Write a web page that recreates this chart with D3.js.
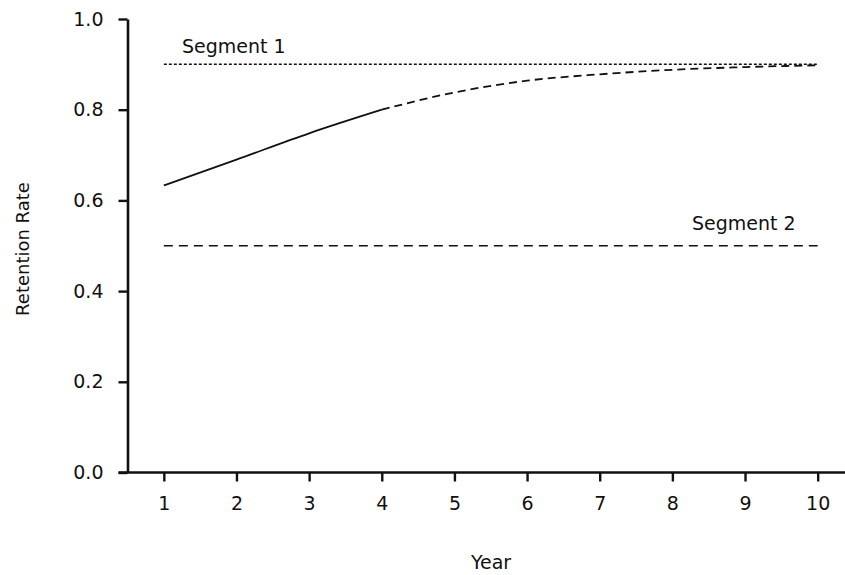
<!DOCTYPE html>
<html>
<head>
<meta charset="utf-8">
<script src="https://cdn.jsdelivr.net/npm/d3@7"></script>
<style>
  html, body { margin: 0; padding: 0; background: #fff; }
  svg { display: block; font-family: "DejaVu Sans", sans-serif; }
</style>
</head>
<body>
<svg id="chart" width="845" height="575"></svg>
<script>
// Retention rate by year: a converging curve and two constant segments
const years = [1, 2, 3, 4, 5, 6, 7, 8, 9, 10];
const curveRates = [0.633, 0.690, 0.748, 0.800, 0.838, 0.864, 0.878, 0.888, 0.894, 0.898];
const segment1Rate = 0.9;
const segment2Rate = 0.5;
const yTicks = [0.0, 0.2, 0.4, 0.6, 0.8, 1.0];
const observedThrough = 4; // solid up to this year, dashed afterwards

const svg = d3.select("#chart");
const ink = "#111";

const x = d3.scaleLinear().domain([0.5, 10.5]).range([127.5, 854]);
const y = d3.scaleLinear().domain([0, 1]).range([472.5, 19]);

// Y axis
const yAxis = svg.append("g")
  .attr("transform", "translate(127.5,0)")
  .call(d3.axisLeft(y).tickValues(yTicks).tickFormat(d3.format(".1f")).tickSize(9).tickSizeOuter(0).tickPadding(15));
yAxis.select(".domain").attr("stroke", ink).attr("stroke-width", 2.6);
yAxis.selectAll(".tick line").attr("stroke", ink).attr("stroke-width", 2.4);
yAxis.selectAll(".tick text").attr("font-size", 19).attr("fill", ink)
  .attr("font-family", "DejaVu Sans");

// X axis
const xAxis = svg.append("g")
  .attr("transform", "translate(0,472.5)")
  .call(d3.axisBottom(x).tickValues(years).tickFormat(d3.format("d")).tickSize(9).tickSizeOuter(0).tickPadding(15));
xAxis.select(".domain").attr("stroke", ink).attr("stroke-width", 2.6)
  .attr("d", `M${x(0.5) - 9},0H${x(10.5)}`);
xAxis.selectAll(".tick line").attr("stroke", ink).attr("stroke-width", 2.4);
xAxis.selectAll(".tick text").attr("font-size", 19).attr("fill", ink)
  .attr("font-family", "DejaVu Sans");

// Axis titles
svg.append("text")
  .attr("x", 491).attr("y", 569)
  .attr("text-anchor", "middle")
  .attr("font-size", 19).attr("fill", ink)
  .text("Year");

svg.append("text")
  .attr("transform", "translate(29,249) rotate(-90)")
  .attr("text-anchor", "middle")
  .attr("font-size", 18).attr("fill", ink)
  .text("Retention Rate");

// Constant segment lines
const flat = (rate) => years.map(yr => ({ year: yr, rate }));
const line = d3.line().x(d => x(d.year)).y(d => y(d.rate));

svg.append("path")
  .datum(flat(segment1Rate))
  .attr("d", line)
  .attr("fill", "none").attr("stroke", ink).attr("stroke-width", 1.5)
  .attr("stroke-dasharray", "3,2");

svg.append("path")
  .datum(flat(segment2Rate))
  .attr("d", line)
  .attr("fill", "none").attr("stroke", ink).attr("stroke-width", 1.5)
  .attr("stroke-dasharray", "9,6");

// Retention curve: solid for observed years, dashed for the projection
const curvePts = years.map((yr, i) => ({ year: yr, rate: curveRates[i] }));
const smooth = d3.line().x(d => x(d.year)).y(d => y(d.rate)).curve(d3.curveMonotoneX);

svg.append("path")
  .datum(curvePts.filter(d => d.year <= observedThrough))
  .attr("d", smooth)
  .attr("fill", "none").attr("stroke", ink).attr("stroke-width", 1.8);

svg.append("path")
  .datum(curvePts.filter(d => d.year >= observedThrough))
  .attr("d", smooth)
  .attr("fill", "none").attr("stroke", ink).attr("stroke-width", 1.8)
  .attr("stroke-dasharray", "8,5");

// Segment labels
svg.append("text")
  .attr("x", 182).attr("y", 53)
  .attr("font-size", 19).attr("fill", ink)
  .text("Segment 1");

svg.append("text")
  .attr("x", 692).attr("y", 230)
  .attr("font-size", 19).attr("fill", ink)
  .text("Segment 2");
</script>
</body>
</html>
